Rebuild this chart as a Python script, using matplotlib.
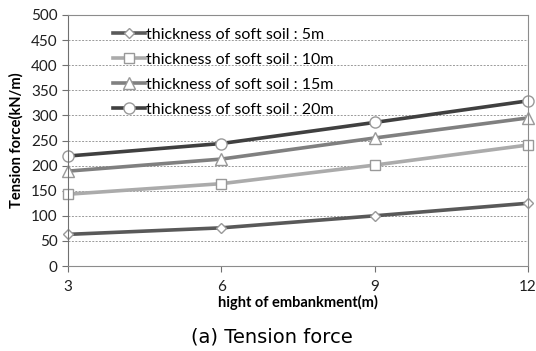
import matplotlib
matplotlib.use("Agg")
from matplotlib import pyplot as plt

heights = [3, 6, 9, 12]
labels = ["thickness of soft soil : 5m", "thickness of soft soil : 10m",
          "thickness of soft soil : 15m", "thickness of soft soil : 20m"]
soil_5 = [63, 76, 100, 125]
soil_10 = [143, 164, 201, 241]
soil_15 = [189, 213, 255, 295]
soil_20 = [219, 244, 286, 329]

series = [soil_5, soil_10, soil_15, soil_20]
colors = ["#595959", "#ababab", "#808080", "#404040"]
marks = ["D", "s", "^", "o"]
msizes = [5, 7, 8, 8]

plt.rcParams["font.family"] = ["Lato", "DejaVu Sans"]

fig = plt.figure(figsize=(5.36, 3.51), dpi=100)
ax = fig.add_axes([68/536, 1-266/351, 460/536, 251/351])

for vals, c, m, ms, lab in zip(series, colors, marks, msizes, labels):
    ax.plot(heights, vals, color=c, lw=2.6, marker=m, ms=ms,
            mfc="white", mec="#999999", mew=1.0, label=lab, clip_on=False)

ax.set_xlim(3, 12)
ax.set_ylim(0, 500)
ax.set_xticks(heights)
ax.set_yticks(range(0, 501, 50))
ax.yaxis.grid(True, ls=(0, (2, 1.5)), color="#9a9a9a", lw=0.7)
ax.set_axisbelow(True)
for s in ["top", "right", "bottom"]:
    ax.spines[s].set_color("#8c8c8c")
ax.spines["left"].set_color("#707070")
ax.tick_params(axis="both", labelsize=11, colors="#707070", labelcolor="#1f1f1f", length=4)
ax.tick_params(axis="x", pad=6)

ax.set_xlabel("hight of embankment(m)", fontsize=10.5, fontweight="bold", labelpad=1)
ax.set_ylabel("Tension force(kN/m)", fontsize=10.5, fontweight="bold", labelpad=5)

ax.legend(loc="upper left", bbox_to_anchor=(0.085, 0.975), frameon=False, fontsize=11.5,
          handlelength=1.95, handletextpad=0.1, labelspacing=0.68, borderaxespad=0)

fig.text(272/536, 1-337/351, "(a) Tension force", ha="center", va="center",
         fontsize=14, family="DejaVu Sans")

fig.savefig("out.png", dpi=100)
